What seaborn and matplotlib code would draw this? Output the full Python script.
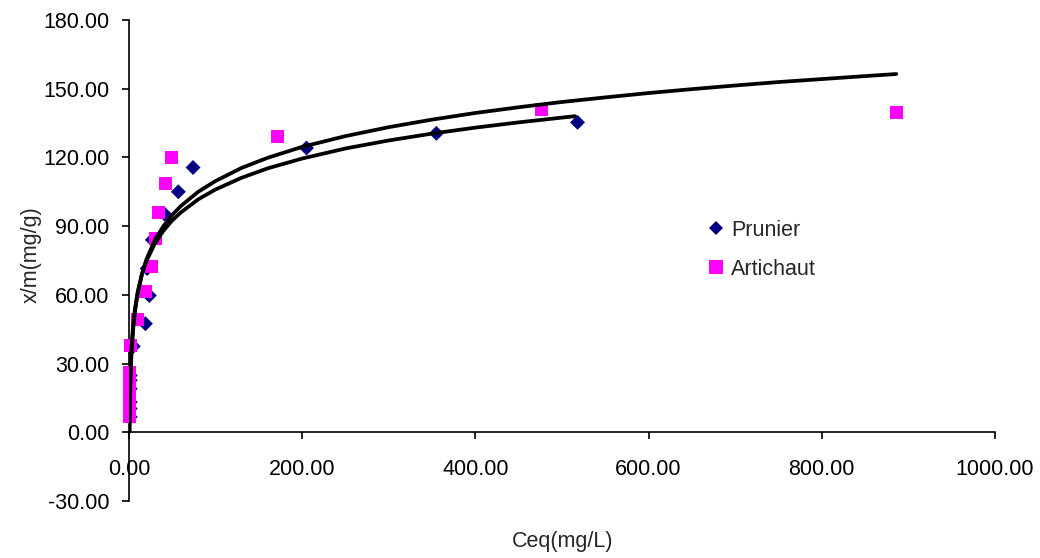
import matplotlib
matplotlib.use("Agg")
import matplotlib.pyplot as plt
from matplotlib.lines import Line2D
import seaborn as sns

# ---- data ----
prunier_ceq = [1.5, 1.5, 1.5, 1.5, 1.5, 1.5, 5.0, 19.0, 23.5, 21.0, 27.0, 41.0, 57.0, 74.0, 205.0, 355.0, 518.0]
prunier_qe = [6.7, 10.3, 13.2, 19.0, 22.7, 24.8, 37.5, 47.4, 59.7, 71.5, 84.0, 95.3, 105.0, 115.6, 124.1, 130.5, 135.3]

artichaut_ceq = [0.3, 0.3, 0.3, 0.3, 0.5, 0.5, 1.5, 10.0, 18.8, 26.5, 31.1, 33.8, 41.9, 49.6, 172.0, 476.0, 886.0]
artichaut_qe = [7.0, 10.0, 14.0, 18.0, 22.0, 26.0, 37.9, 49.3, 61.6, 72.4, 84.7, 96.0, 108.4, 120.0, 129.0, 141.1, 139.6]

# fitted curves
fit_art_ceq = [0.6, 1, 2, 3, 5, 7, 10, 15, 20, 30, 40, 50, 60, 80, 100, 130, 160, 200, 250, 300,
               350, 400, 450, 500, 550, 600, 650, 700, 750, 800, 850, 886]
fit_art_qe = [0.3, 11.2, 26.0, 34.7, 45.6, 52.8, 60.5, 69.1, 75.3, 84.0, 90.1, 94.9, 98.8, 105.0, 109.7,
              115.4, 119.8, 124.6, 129.3, 133.2, 136.5, 139.4, 141.9, 144.2, 146.2, 148.1, 149.8, 151.4,
              152.9, 154.2, 155.5, 156.4]

fit_pru_ceq = [0.45, 1, 2, 3, 5, 7, 10, 15, 20, 30, 40, 50, 60, 80, 100, 130, 160, 200, 250, 300,
               350, 400, 450, 515]
fit_pru_qe = [0.6, 16.2, 29.7, 37.6, 47.6, 54.1, 61.1, 69.0, 74.6, 82.5, 88.1, 92.5, 96.0, 101.7, 106.0,
              111.1, 115.2, 119.5, 123.9, 127.4, 130.4, 133.0, 135.3, 138.0]

x_ticks = [0, 200, 400, 600, 800, 1000]
y_ticks = [-30, 0, 30, 60, 90, 120, 150, 180]
x_title = "Ceq(mg/L)"
y_title = "x/m(mg/g)"
series_names = ["Prunier", "Artichaut"]

# ---- style ----
sns.set_theme(style="ticks")
plt.rcParams["font.family"] = ["Liberation Sans", "DejaVu Sans"]

FS = 15.5
C_PRU = "#000080"
C_ART = "#FF00FF"

fig = plt.figure(figsize=(10.4, 5.58), dpi=100)
ax = fig.add_axes([0.124, 0.1022, 0.8327, 0.862])

sns.scatterplot(x=prunier_ceq, y=prunier_qe, marker="D", s=58, color=C_PRU,
                edgecolor="none", linewidth=0, ax=ax, zorder=2, legend=False)
sns.scatterplot(x=artichaut_ceq, y=artichaut_qe, marker="s", s=88, color=C_ART,
                edgecolor="none", linewidth=0, ax=ax, zorder=3, legend=False)
for coll in ax.collections:
    coll.set_clip_on(False)
sns.lineplot(x=fit_art_ceq, y=fit_art_qe, color="black", linewidth=2.7, ax=ax,
             estimator=None, sort=False, legend=False, zorder=4)
sns.lineplot(x=fit_pru_ceq, y=fit_pru_qe, color="black", linewidth=2.7, ax=ax,
             estimator=None, sort=False, legend=False, zorder=4)

ax.set_xlim(0, 1000)
ax.set_ylim(-30, 180)
ax.set_xticks(x_ticks)
ax.set_yticks(y_ticks)
ax.set_xticklabels([f"{v:.2f}" for v in x_ticks])
ax.set_yticklabels([f"{v:.2f}" for v in y_ticks])

for s in ["top", "right"]:
    ax.spines[s].set_visible(False)
ax.spines["bottom"].set_position(("data", 0))
for s in ["left", "bottom"]:
    ax.spines[s].set_color("black")
    ax.spines[s].set_linewidth(1.2)
    ax.spines[s].set_zorder(1)

ax.tick_params(axis="x", direction="out", length=5, width=1.2, color="black",
               labelsize=FS, pad=14, labelcolor="black")
ax.tick_params(axis="y", direction="out", length=5, width=1.2, color="black",
               labelsize=FS, pad=9, labelcolor="black")

ax.set_xlabel("")
ax.set_ylabel("")
fig.text(0.541, 1 - 541 / 558, x_title, ha="center", va="center", fontsize=FS)
fig.text(31 / 1040, 1 - 255 / 558, y_title, ha="center", va="center", rotation=90, fontsize=FS)

handles = [
    Line2D([], [], marker="D", ls="none", color=C_PRU, markersize=7.6, markeredgewidth=0),
    Line2D([], [], marker="s", ls="none", color=C_ART, markersize=9.4, markeredgewidth=0),
]
ax.legend(handles, series_names, loc="upper left", bbox_to_anchor=(0.668, 0.585),
          frameon=False, fontsize=FS, handlelength=0.8, handletextpad=0.3,
          labelspacing=0.85, borderpad=0, borderaxespad=0)

fig.savefig("out.png", dpi=100, facecolor="white")
